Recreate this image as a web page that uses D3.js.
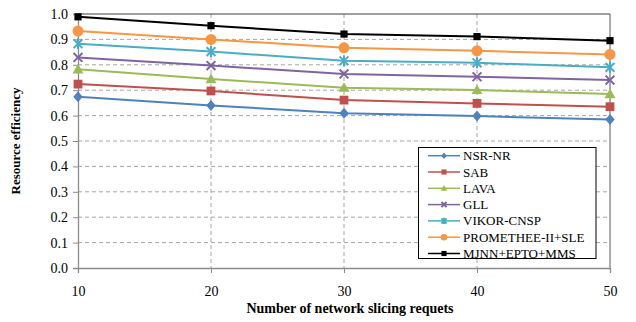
<!DOCTYPE html>
<html><head><meta charset="utf-8">
<script src="https://cdn.jsdelivr.net/npm/d3@7"></script>
<style>body{margin:0;background:#fff}svg{display:block}text{font-family:'Liberation Serif','Times New Roman',serif}</style>
</head><body>
<svg id="c" width="636" height="322"></svg>
<script>
const xValues = [10, 20, 30, 40, 50];
const yTicks = [0.0,0.1,0.2,0.3,0.4,0.5,0.6,0.7,0.8,0.9,1.0];
const seriesNames = ["NSR-NR","SAB","LAVA","GLL","VIKOR-CNSP","PROMETHEE-II+SLE","MJNN+EPTO+MMS"];
const nsrnr     = [0.674, 0.640, 0.609, 0.598, 0.585];
const sab       = [0.724, 0.697, 0.661, 0.648, 0.635];
const lava      = [0.782, 0.744, 0.710, 0.701, 0.685];
const gll       = [0.829, 0.797, 0.764, 0.753, 0.740];
const vikor     = [0.883, 0.852, 0.816, 0.808, 0.790];
const promethee = [0.933, 0.900, 0.867, 0.855, 0.841];
const mjnn      = [0.989, 0.954, 0.921, 0.911, 0.895];
const colors = ["#4F81BD","#C0504D","#9BBB59","#8064A2","#4BACC6","#F79646","#000000"];
const markers = ["diamond","square","triangle","x","asterisk","circle","square"];
const allSeries = [nsrnr,sab,lava,gll,vikor,promethee,mjnn];

const svg = d3.select("#c");
const L=78, R=610, T=14, B=268;
const x = d3.scaleLinear().domain([10,50]).range([L,R]);
const y = d3.scaleLinear().domain([0,1]).range([B,T]);
const font = "'Liberation Serif','Times New Roman',serif";

// grid
svg.append("g").selectAll("line").data(yTicks.filter(d=>d>0&&d<1)).join("line")
  .attr("x1",L).attr("x2",R).attr("y1",d=>y(d)).attr("y2",d=>y(d))
  .attr("stroke","#a6a6a6").attr("stroke-dasharray","4,3").attr("stroke-width",1);
svg.append("g").selectAll("line").data(xValues.filter(d=>d>10&&d<50)).join("line")
  .attr("x1",d=>x(d)).attr("x2",d=>x(d)).attr("y1",T).attr("y2",B)
  .attr("stroke","#a6a6a6").attr("stroke-dasharray","4,3").attr("stroke-width",1);

// border
svg.append("line").attr("x1",L).attr("x2",R).attr("y1",T).attr("y2",T).attr("stroke","#404040");
svg.append("line").attr("x1",R).attr("x2",R).attr("y1",T).attr("y2",B).attr("stroke","#595959");

// axes
const yAxis = d3.axisLeft(y).tickValues(yTicks).tickFormat(d3.format(".1f")).tickSize(5).tickPadding(5);
const gy = svg.append("g").attr("transform",`translate(${L},0)`).call(yAxis);
const xAxis = d3.axisBottom(x).tickValues(xValues).tickFormat(d3.format("d")).tickSize(5).tickPadding(13);
const gx = svg.append("g").attr("transform",`translate(0,${B})`).call(xAxis);
[gy,gx].forEach(g=>{
  g.attr("font-family",font).attr("font-size",14);
  g.select(".domain").attr("stroke","#8c8c8c").attr("stroke-width",1.3);
  g.selectAll(".tick line").attr("stroke","#8c8c8c");
  g.selectAll("text").style("font-family",font).style("font-size","14px").attr("fill","#000");
});

// titles
svg.append("text").attr("transform",`translate(20,${(T+B)/2}) rotate(-90)`).attr("text-anchor","middle")
  .style("font-family",font).attr("font-weight","bold").attr("font-size",13).text("Resource efficiency");
svg.append("text").attr("x",(L+R)/2+6).attr("y",313).attr("text-anchor","middle")
  .style("font-family",font).attr("font-weight","bold").attr("font-size",14).text("Number of network slicing requets");

function drawMarker(g, type, color, cx, cy, s) {
  if (type==="diamond") {
    g.append("path").attr("d",`M${cx},${cy-s}L${cx+s*0.85},${cy}L${cx},${cy+s}L${cx-s*0.85},${cy}Z`).attr("fill",color);
  } else if (type==="square") {
    g.append("rect").attr("x",cx-s*0.8).attr("y",cy-s*0.8).attr("width",s*1.6).attr("height",s*1.6).attr("fill",color);
  } else if (type==="triangle") {
    g.append("path").attr("d",`M${cx},${cy-s}L${cx+s},${cy+s*0.75}L${cx-s},${cy+s*0.75}Z`).attr("fill",color);
  } else if (type==="circle") {
    g.append("circle").attr("cx",cx).attr("cy",cy).attr("r",s).attr("fill",color);
  } else if (type==="x") {
    const k=s*0.8;
    g.append("path").attr("d",`M${cx-k},${cy-k}L${cx+k},${cy+k}M${cx-k},${cy+k}L${cx+k},${cy-k}`).attr("stroke",color).attr("stroke-width",2);
  } else if (type==="asterisk") {
    const k=s*0.8;
    g.append("path").attr("d",`M${cx-k},${cy-k}L${cx+k},${cy+k}M${cx-k},${cy+k}L${cx+k},${cy-k}M${cx},${cy-s}L${cx},${cy+s}`).attr("stroke",color).attr("stroke-width",2);
  }
}

const line = d3.line().x((d,i)=>x(xValues[i])).y(d=>y(d));
const sizes = [5.5,5.5,5.5,5.5,5.5,5.5,4.5];
allSeries.forEach((vals,si)=>{
  const g = svg.append("g");
  g.append("path").attr("d",line(vals)).attr("fill","none").attr("stroke",colors[si]).attr("stroke-width",2);
  vals.forEach((v,i)=>drawMarker(g,markers[si],colors[si],x(xValues[i]),y(v),sizes[si]));
});

// legend
const lg = svg.append("g");
lg.append("rect").attr("x",418.5).attr("y",147.5).attr("width",177.5).attr("height",111).attr("fill","#fff").attr("stroke","#000").attr("stroke-width",1);
seriesNames.forEach((n,i)=>{
  const ly = 155.7 + i*16.3;
  lg.append("line").attr("x1",428).attr("x2",460).attr("y1",ly).attr("y2",ly).attr("stroke",colors[i]).attr("stroke-width",1.5);
  drawMarker(lg,markers[i],colors[i],444,ly,3.2);
  lg.append("text").attr("x",463).attr("y",ly+4.5).style("font-family",font).attr("font-size",13).text(n);
});
</script>
</body></html>
